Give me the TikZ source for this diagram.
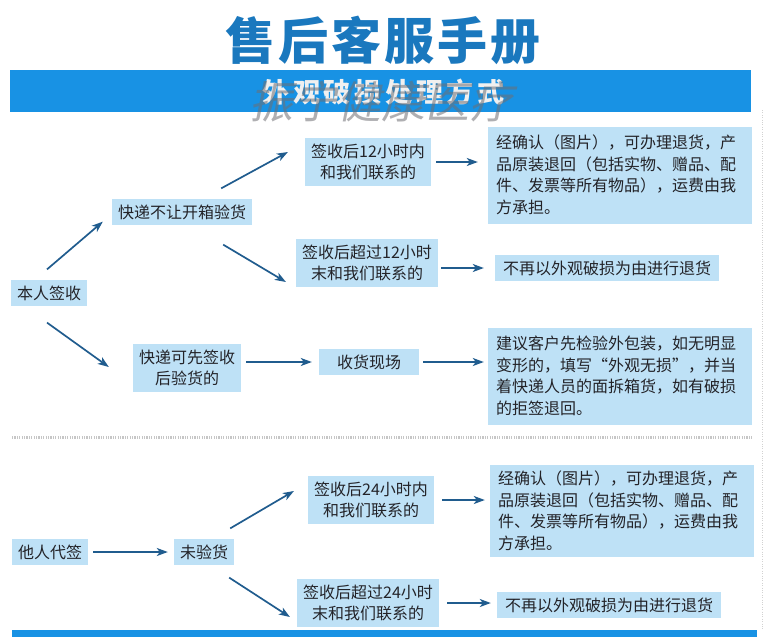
\documentclass[tikz,border=0pt]{standalone}
\usepackage{fontspec}
\setmainfont{Noto Sans CJK SC}
\usepackage{xcolor}
\definecolor{boxblue}{RGB}{190, 225, 246}
\definecolor{bannerblue}{RGB}{24, 146, 228}
\definecolor{titleblue}{RGB}{26, 120, 190}
\definecolor{arrowblue}{RGB}{32, 92, 142}
\definecolor{textdark}{RGB}{35, 35, 40}
\definecolor{markgray}{RGB}{110, 110, 115}
\usetikzlibrary{positioning, calc, arrows.meta}

\begin{document}
\begin{tikzpicture}[
    x=1pt, y=-1pt,
    font=\fontsize{16}{21.5}\selectfont,
    box/.style={rectangle, fill=boxblue, text=textdark, inner xsep=6pt, inner ysep=6pt, align=center},
    note/.style={box, text width=248pt, inner xsep=8pt, align=left, minimum height=97pt},
    arr/.style={-{Stealth[length=11pt, width=8pt, inset=3pt]}, line width=1.7pt, color=arrowblue}
]
    \useasboundingbox (0,0) rectangle (767,637);

    % header
    \node[font=\fontsize{50}{50}\selectfont\bfseries\addfontfeature{LetterSpace=6}, text=titleblue] (title) at (383,40) {售后客服手册};
    \fill[bannerblue] (10,70) rectangle (751,112);
    \node[font=\fontsize{27}{27}\selectfont\bfseries\addfontfeature{LetterSpace=14}, text=white!88!gray] (sub) at (383.5,92) {外观破损处理方式};
    \node[font=\fontsize{44}{44}\selectfont, text=markgray, opacity=0.55, xslant=0.2, transform shape] (wm) at (385,102) {振宁健康医疗};

    % self-signed
    \node[box] (ben) at (49,293) {本人签收};
    \node[box] (kd1) at (182,212) {快递不让开箱验货};
    \node[box] (h12) at (368,162) {签收后12小时内\\和我们联系的};
    \node[note] (r1) at (620,175) {经确认（图片），可办理退货，产\\品原装退回（包括实物、赠品、配\\件、发票等所有物品），运费由我\\方承担。};
    \node[box] (h12b) at (367,263) {签收后超过12小时\\末和我们联系的};
    \node[box, inner xsep=8pt] (r2) at (607,268) {不再以外观破损为由进行退货};
    \node[box] (kd2) at (187,368) {快递可先签收\\后验货的};
    \node[box, minimum width=100pt] (xc) at (369,362) {收货现场};
    \node[note] (r3) at (620,376) {建议客户先检验外包装，如无明显\\变形的，填写“外观无损”，并当\\着快递人员的面拆箱货，如有破损\\的拒签退回。};

    \draw[gray!45, line width=3pt, dash pattern=on 1.2pt off 1.2pt] (12,437) -- (752,437);
    \draw[gray!35, dotted] (762,110) -- (762,630);

    % signed by others
    \node[box] (trd) at (50,552) {他人代签};
    \node[box] (wyh) at (204,552) {未验货};
    \node[box] (h24) at (371,500) {签收后24小时内\\和我们联系的};
    \node[note, minimum height=92pt] (r4) at (622,511) {经确认（图片），可办理退货，产\\品原装退回（包括实物、赠品、配\\件、发票等所有物品），运费由我\\方承担。};
    \node[box] (h24b) at (368,603) {签收后超过24小时\\末和我们联系的};
    \node[box, inner xsep=8pt] (r5) at (609,605) {不再以外观破损为由进行退货};

    \fill[bannerblue] (12,630) rectangle (757,637);

    \draw[arr] ($(ben.north)+(-2,-10)$) -- ($(kd1.south west)+(-9,-4)$);
    \draw[arr] ($(ben.south)+(-2,16)$) -- ($(kd2.west)+(-24,-1)$);
    \draw[arr] ($(kd1.north east)+(-31,-10)$) -- ($(h12.west)+(-17,-10)$);
    \draw[arr] ($(kd1.south east)+(-29,19)$) -- ($(h12b.west)+(-10,19)$);
    \draw[arr, shorten <=5pt, shorten >=10pt] (h12.east) -- (h12.east -| r1.west);
    \draw[arr, shorten <=3pt, shorten >=11pt] (h12b.east |- r2.west) -- (r2.west);
    \draw[arr, shorten <=5pt, shorten >=7pt] (kd2.east |- xc.west) -- (xc.west);
    \draw[arr, shorten <=4pt, shorten >=4pt] (xc.east) -- (xc.east -| r3.west);
    \draw[arr, shorten <=5pt, shorten >=6pt] (trd.east) -- (wyh.west);
    \draw[arr] ($(wyh.north east)+(-4,-10)$) -- ($(h24.west)+(-14,-9)$);
    \draw[arr] ($(wyh.south east)+(-5,12)$) -- ($(h24b.west)+(-7,14)$);
    \draw[arr, shorten <=8pt, shorten >=5pt] (h24.east) -- (h24.east -| r4.west);
    \draw[arr, shorten <=8pt, shorten >=6pt] (h24b.east) -- (h24b.east -| r5.west);
\end{tikzpicture}
\end{document}
